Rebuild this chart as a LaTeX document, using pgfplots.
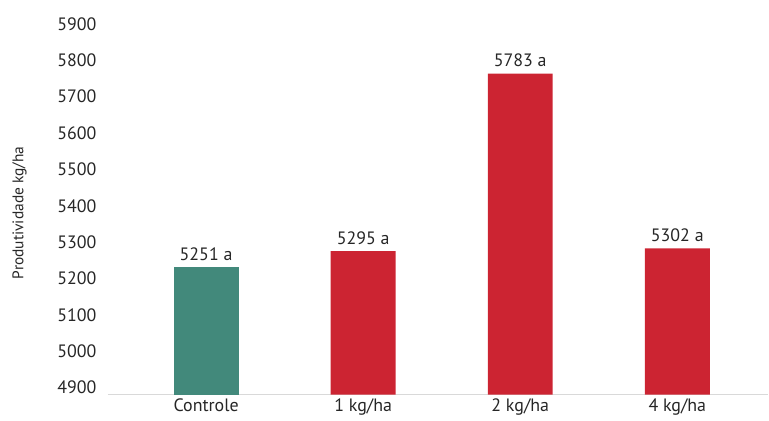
\documentclass[border=0pt]{standalone}
\usepackage{pgfplots}
\pgfplotsset{compat=1.18}
\usepackage{fontspec}
\setmainfont{PT Sans}
\usetikzlibrary{calc}
\definecolor{tealbar}{RGB}{66,137,123}
\definecolor{redbar}{RGB}{204,36,50}
\definecolor{axgrey}{RGB}{217,217,217}
\begin{document}
\begin{tikzpicture}
\begin{axis}[
  name=ax,
  scale only axis,
  width=661bp, height=364bp,
  xmin=-0.625, xmax=3.58,
  ymin=4900, ymax=5900,
  ytick={4900,5000,...,5900},
  xtick={0,1,2,3},
  xticklabels={Controle,1 kg/ha,2 kg/ha,4 kg/ha},
  major tick length=0pt,
  axis x line*=bottom,
  axis y line*=left,
  y axis line style={draw=none},
  x axis line style={draw=axgrey, line width=1.2bp, -},
  ytick style={draw=none},
  xtick style={draw=none},
  /pgf/number format/assume math mode=true,
  /pgf/number format/set thousands separator={},
  tick label style={font=\fontsize{18}{21}\selectfont, text=black!85},
  yticklabel style={anchor=east, xshift=-8bp, yshift=7bp},
  xticklabel style={yshift=-1bp},
  ylabel={Produtividade kg/ha},
  ylabel style={font=\fontsize{15.5}{18}\selectfont, text=black!85},
  ylabel shift=24bp,
  ybar, bar width=65bp, bar shift=0pt,
  clip=false,
  nodes near coords,
  point meta=explicit symbolic,
  every node near coord/.append style={font=\fontsize{18}{21}\selectfont, text=black!85, yshift=3bp},
]
\addplot[fill=tealbar, draw=none] coordinates {(0,5251) [5251 a]};
\addplot[fill=redbar, draw=none] coordinates {(1,5295) [5295 a] (2,5783) [5783 a] (3,5302) [5302 a]};
\end{axis}
\path ($(ax.south west)+(-108bp,-26bp)$) rectangle ($(ax.north east)+(0bp,31bp)$);
\end{tikzpicture}
\end{document}
